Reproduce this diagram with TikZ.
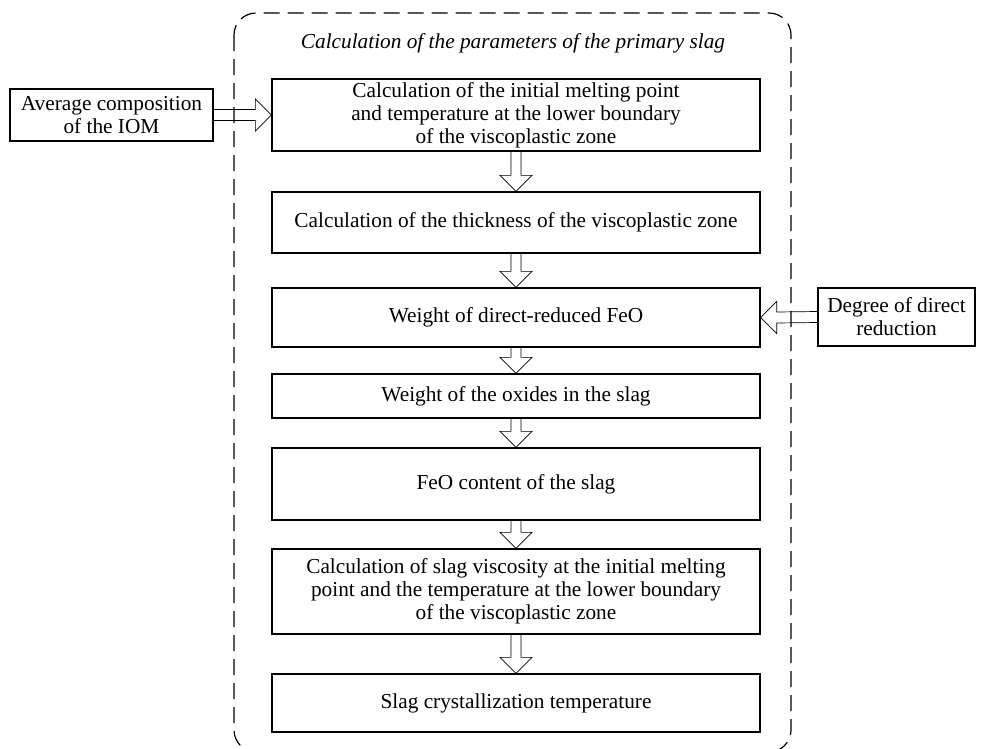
\documentclass[tikz,border=0pt]{standalone}
\usepackage{fontspec}
\setmainfont{Liberation Serif}
\usetikzlibrary{calc}
\tikzset{
  stepbox/.style={draw,line width=1.3pt,minimum width=488pt,align=center,inner sep=0pt},
  sidebox/.style={draw,line width=1.3pt,align=center,inner sep=0pt},
  hollow/.style={line width=0.7pt,line join=miter},
}
% hollow block arrows between nodes
\newcommand{\flowdown}[2]{\draw[hollow] ($(#1.south)+(-5,0)$) -- ($(#2.north)+(-5,-16)$) -- ($(#2.north)+(-16,-16)$) -- (#2.north) -- ($(#2.north)+(16,-16)$) -- ($(#2.north)+(5,-16)$) -- ($(#1.south)+(5,0)$);}
\newcommand{\flowright}[2]{\draw[hollow] ($(#1.east)+(0,-5.5)$) -- ($(#2.west)+(-16,-5.5)$) -- ($(#2.west)+(-16,-16)$) -- (#2.west) -- ($(#2.west)+(-16,16)$) -- ($(#2.west)+(-16,5.5)$) -- ($(#1.east)+(0,5.5)$);}
\newcommand{\flowleft}[2]{\draw[hollow] ($(#1.west)+(0,-5.5)$) -- ($(#2.east)+(16,-5.5)$) -- ($(#2.east)+(16,-16)$) -- (#2.east) -- ($(#2.east)+(16,16)$) -- ($(#2.east)+(16,5.5)$) -- ($(#1.west)+(0,5.5)$);}
\begin{document}
\begin{tikzpicture}[x=1pt,y=-1pt,font=\fontsize{21.3}{23}\selectfont]
\useasboundingbox (0,0) rectangle (986,748);
% frame of the primary slag block
\draw[line width=1.2pt,dash pattern=on 16pt off 8pt,rounded corners=22pt] (234,13) rectangle (791,752);
\node (title) at (513,43) {\itshape Calculation of the parameters of the primary slag};
% main chain
\node[stepbox,minimum height=72pt] (melt) at (516,115) {Calculation of the initial melting point\\and temperature at the lower boundary\\of the viscoplastic zone};
\node[stepbox,minimum height=61pt] (thick) at (516,222.5) {Calculation of the thickness of the viscoplastic zone};
\node[stepbox,minimum height=59pt] (feo) at (516,317.5) {Weight of direct-reduced FeO};
\node[stepbox,minimum height=44pt] (oxid) at (516,396) {Weight of the oxides in the slag};
\node[stepbox,minimum height=72pt] (cont) at (516,484) {FeO content of the slag};
\node[stepbox,minimum height=85pt] (visc) at (516,591.5) {Calculation of slag viscosity at the initial melting\\point and the temperature at the lower boundary\\of the viscoplastic zone};
\node[stepbox,minimum height=58pt] (cryst) at (516,703) {Slag crystallization temperature};
% inputs
\node[sidebox,minimum width=203pt,minimum height=52pt] (iom) at (111.5,115) {Average composition\\of the IOM};
\node[sidebox,minimum width=157pt,minimum height=58pt] (deg) at (896.5,317) {Degree of direct\\reduction};
\flowdown{melt}{thick}
\flowdown{thick}{feo}
\flowdown{feo}{oxid}
\flowdown{oxid}{cont}
\flowdown{cont}{visc}
\flowdown{visc}{cryst}
\flowright{iom}{melt}
\flowleft{deg}{feo}
\end{tikzpicture}
\end{document}
